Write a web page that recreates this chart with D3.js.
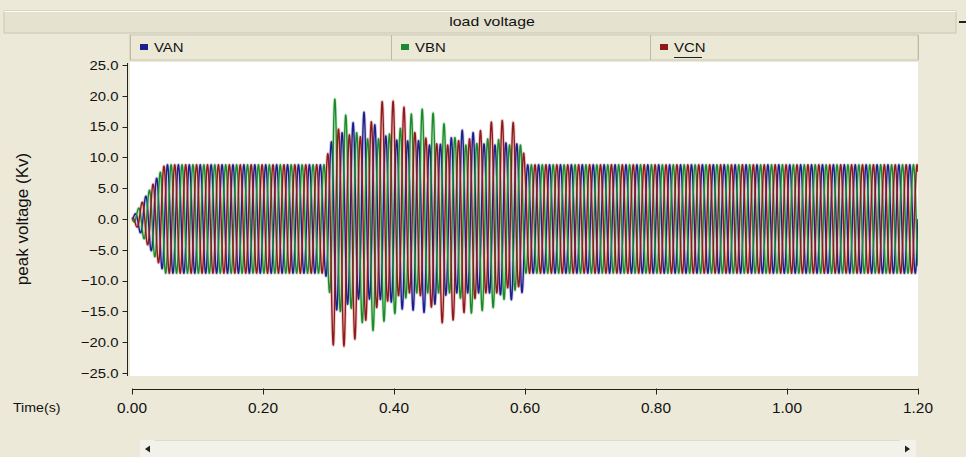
<!DOCTYPE html>
<html>
<head>
<meta charset="utf-8">
<script src="https://cdn.jsdelivr.net/npm/d3@7"></script>
<style>
  html, body { margin: 0; padding: 0; background: #ece9d8; }
  svg { display: block; }
  text { font-family: "Liberation Sans", Arial, sans-serif; fill: #111; }
</style>
</head>
<body>
<svg id="chart" width="966" height="457"></svg>
<script>
// ---------------- DATA ----------------
const chartTitle = "load voltage";
const seriesNames = ["VAN", "VBN", "VCN"];
const xTickValues = [0.00, 0.20, 0.40, 0.60, 0.80, 1.00, 1.20];
const yTickValues = [-25, -20, -15, -10, -5, 0, 5, 10, 15, 20, 25];

// waveform description (kV, s)
const frequencyHz = 60;
const phaseAnglesDeg = [0, -120, 120];
const steadyPeakKv = 8.8;
const rampEndTime = 0.05;
const faultStartTime = 0.295;
const faultEndTime = 0.60;

// peak envelopes during the disturbance
const envelopeTimes = [0.295, 0.308, 0.326, 0.343, 0.359, 0.377, 0.397, 0.415, 0.432, 0.451, 0.469, 0.485, 0.504, 0.522, 0.539, 0.557, 0.577, 0.594, 0.600];
const vanTopPeaks    = [8.8, 14.0, 14.0, 16.4, 17.7, 14.0, 13.0, 12.5, 13.0, 12.0, 12.0, 13.0, 14.4, 14.0, 12.0, 12.0, 12.5, 12.0, 8.8];
const vanBottomPeaks = [-8.8, -15.0, -14.0, -13.0, -13.0, -13.0, -13.5, -14.8, -14.8, -15.3, -13.0, -12.0, -12.0, -12.0, -12.0, -12.0, -13.1, -13.1, -8.8];
const vbnTopPeaks    = [8.8, 19.7, 16.9, 14.0, 13.0, 13.0, 14.0, 15.0, 18.0, 17.7, 16.6, 14.1, 12.0, 12.0, 13.0, 13.0, 12.0, 12.0, 8.8];
const vbnBottomPeaks = [-8.8, -15.0, -15.0, -14.0, -19.3, -16.9, -16.1, -13.0, -12.0, -12.0, -12.0, -12.0, -13.0, -15.9, -14.5, -14.3, -12.0, -11.0, -8.8];
const vcnTopPeaks    = [8.8, 15.0, 14.0, 13.0, 14.0, 19.0, 19.2, 18.2, 14.0, 13.0, 12.0, 12.0, 13.0, 13.0, 15.3, 16.1, 15.8, 15.3, 8.8];
const vcnBottomPeaks = [-8.8, -21.3, -20.5, -19.3, -16.0, -14.0, -13.0, -12.0, -12.0, -13.0, -16.9, -16.7, -15.6, -13.0, -12.0, -12.0, -11.0, -11.0, -8.8];

const seriesColors = ["#1c1f8c", "#1a8a2c", "#8e1b1b"];
const seriesHalo = ["#a9a3d6", "#a8d8a4", "#e6a3a6"];

// ---------------- LAYOUT ----------------
const svg = d3.select("#chart");
const plot = { left: 130, right: 918, top: 62, bottom: 376 };

const x = d3.scaleLinear().domain([0, 1.2]).range([132, 918]);
const y = d3.scaleLinear().domain([-25, 25]).range([373, 65]);

function stretchedText(g, tx, ty, str, size, anchor, sx) {
  return g.append("text")
    .attr("transform", `translate(${tx},${ty}) scale(${sx},1)`)
    .attr("text-anchor", anchor)
    .attr("dominant-baseline", "central")
    .style("font-size", size + "px")
    .text(str);
}

// background
svg.append("rect").attr("width", 966).attr("height", 457).attr("fill", "#ece9d8");

// title bar
svg.append("rect").attr("x", 4).attr("y", 11).attr("width", 952).attr("height", 22)
  .attr("fill", "#e5e2d0").attr("stroke", "#c9c6b3").attr("stroke-width", 1);
svg.append("line").attr("x1", 4).attr("x2", 956).attr("y1", 11.5).attr("y2", 11.5).attr("stroke", "#fbfaf4");
stretchedText(svg, 492, 22, chartTitle, 13, "middle", 1.22);
svg.append("rect").attr("x", 959).attr("y", 21).attr("width", 7).attr("height", 2).attr("fill", "#222");

// legend row
const legendCells = [130, 391, 650, 918];
svg.append("rect").attr("x", 130).attr("y", 35).attr("width", 788).attr("height", 25)
  .attr("fill", "#ebe8d6").attr("stroke", "#c9c6b3");
legendCells.forEach(cx => {
  svg.append("line").attr("x1", cx + 0.5).attr("x2", cx + 0.5).attr("y1", 35).attr("y2", 60)
    .attr("stroke", "#bdbaa6");
});
seriesNames.forEach((name, i) => {
  const lx = legendCells[i] + 10;
  svg.append("rect").attr("x", lx).attr("y", 44).attr("width", 8).attr("height", 6)
    .attr("fill", seriesColors[i]);
  stretchedText(svg, lx + 14, 47, name, 13, "start", 1.15);
});
// underline under VCN (as in reference)
svg.append("line").attr("x1", legendCells[2] + 24).attr("x2", legendCells[2] + 52)
  .attr("y1", 57.5).attr("y2", 57.5).attr("stroke", "#222");

// plot area
svg.append("rect").attr("x", plot.left).attr("y", plot.top)
  .attr("width", plot.right - plot.left).attr("height", plot.bottom - plot.top)
  .attr("fill", "#ffffff");

svg.append("clipPath").attr("id", "clip").append("rect")
  .attr("x", plot.left).attr("y", plot.top)
  .attr("width", plot.right - plot.left).attr("height", plot.bottom - plot.top);

// waveform generation from envelopes
const topScales = [vanTopPeaks, vbnTopPeaks, vcnTopPeaks].map(a => d3.scaleLinear().domain(envelopeTimes).range(a).clamp(true));
const botScales = [vanBottomPeaks, vbnBottomPeaks, vcnBottomPeaks].map(a => d3.scaleLinear().domain(envelopeTimes).range(a).clamp(true));

const times = d3.range(0, 1.2 + 1e-9, 0.0001);
function envelope(i, t) {
  if (t < rampEndTime) { const a = steadyPeakKv * t / rampEndTime; return [a, -a]; }
  if (t >= faultStartTime && t <= faultEndTime) return [topScales[i](t), botScales[i](t)];
  return [steadyPeakKv, -steadyPeakKv];
}
const series = seriesNames.map((name, i) => {
  const ph = phaseAnglesDeg[i] * Math.PI / 180;
  return times.map(t => {
    const s = Math.sin(2 * Math.PI * frequencyHz * t + ph);
    const [top, bot] = envelope(i, t);
    return { t, v: s >= 0 ? top * s : -bot * s };
  });
});

const line = d3.line().x(d => x(d.t)).y(d => y(d.v));
const waveG = svg.append("g").attr("clip-path", "url(#clip)");
series.forEach((pts, i) => {
  waveG.append("path").datum(pts).attr("d", line)
    .attr("fill", "none").attr("stroke", seriesHalo[i]).attr("stroke-width", 3.2).attr("stroke-opacity", 0.55);
});
series.forEach((pts, i) => {
  waveG.append("path").datum(pts).attr("d", line)
    .attr("fill", "none").attr("stroke", seriesColors[i]).attr("stroke-width", 1.4);
});

// y axis
const yAxisG = svg.append("g").attr("transform", "translate(127.5,0)");
yAxisG.append("line").attr("x1", 0).attr("x2", 0).attr("y1", 63).attr("y2", 376).attr("stroke", "#222");
yTickValues.forEach(v => {
  yAxisG.append("line").attr("x1", -5).attr("x2", 0).attr("y1", Math.round(y(v)) + 0.5).attr("y2", Math.round(y(v)) + 0.5).attr("stroke", "#222");
  stretchedText(yAxisG, -9, y(v), d3.format(".1f")(v), 13.5, "end", 1.1);
});
svg.append("text")
  .attr("transform", `translate(22,219) rotate(-90)`)
  .attr("text-anchor", "middle").attr("dominant-baseline", "central")
  .style("font-size", "17px").text("peak voltage (Kv)");

// x axis
const xAxisG = svg.append("g").attr("transform", "translate(0,389.5)");
xAxisG.append("line").attr("x1", x(0)).attr("x2", x(1.2)).attr("y1", 0).attr("y2", 0).attr("stroke", "#222");
xTickValues.forEach(v => {
  xAxisG.append("line").attr("x1", Math.round(x(v)) + 0.5).attr("x2", Math.round(x(v)) + 0.5)
    .attr("y1", -1).attr("y2", 5).attr("stroke", "#222");
  stretchedText(xAxisG, x(v), 19, d3.format(".2f")(v), 14, "middle", 1.1);
});
stretchedText(svg, 13, 407, "Time(s)", 13.5, "start", 1.05);

// scrollbar
svg.append("rect").attr("x", 140).attr("y", 440).attr("width", 776).attr("height", 17).attr("fill", "#f3f2ea");
svg.append("path").attr("d", "M145,449 L150,445.5 L150,452.5 Z").attr("fill", "#222");
svg.append("path").attr("d", "M910,449 L905,445.5 L905,452.5 Z").attr("fill", "#222");
svg.append("line").attr("x1", 155).attr("x2", 900).attr("y1", 440.5).attr("y2", 440.5).attr("stroke", "#e0ddcb");
</script>
</body>
</html>
